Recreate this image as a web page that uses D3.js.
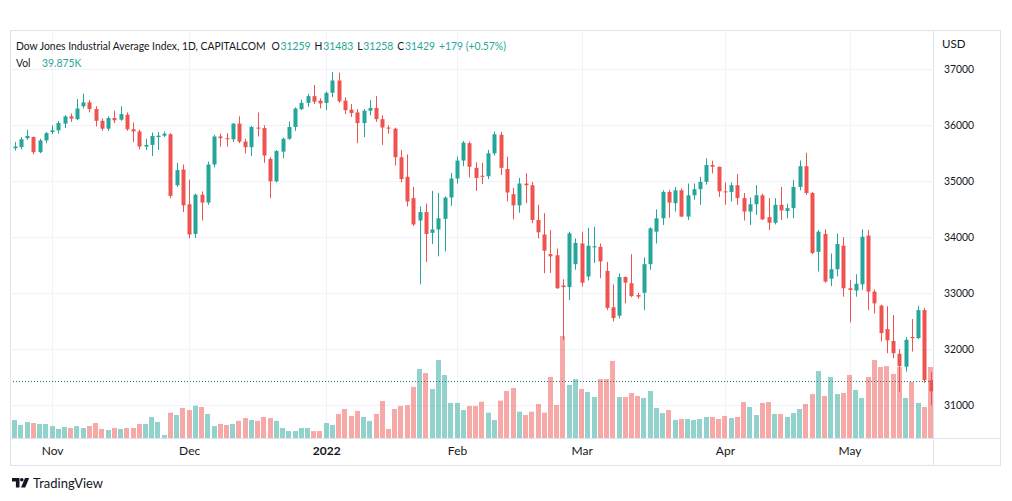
<!DOCTYPE html>
<html><head><meta charset="utf-8">
<script src="https://cdn.jsdelivr.net/npm/d3@7"></script>
<style>
html,body{margin:0;padding:0;background:#fff;}
svg{display:block;font-family:Lato,"Open Sans",sans-serif;}
</style></head><body>
<svg id="chart" width="1012" height="501"></svg>
<script>
// ---- data (daily bars, Dow Jones Industrial Average Index CFD) ----
const monthKeys = ["2021-10","2021-11","2021-12","2022-01","2022-02","2022-03","2022-04","2022-05"];
const monthDays = [
  [22,25,26,27,28,29],
  [1,2,3,4,5,8,9,10,11,12,15,16,17,18,19,22,23,24,25,26,29,30],
  [1,2,3,6,7,8,9,10,13,14,15,16,17,20,21,22,23,27,28,29,30,31],
  [3,4,5,6,7,10,11,12,13,14,17,18,19,20,21,24,25,26,27,28,31],
  [1,2,3,4,7,8,9,10,11,14,15,16,17,18,21,22,23,24,25,28],
  [1,2,3,4,7,8,9,10,11,14,15,16,17,18,21,22,23,24,25,28,29,30,31],
  [1,4,5,6,7,8,11,12,13,14,18,19,20,21,22,25,26,27,28,29],
  [2,3,4,5,6,9,10,11,12,13,16,17,18,19]
];
const opens = [35590,35610,35770,35790,35520,35730,35880,35910,36030,36160,
36110,36340,36410,36290,36080,35940,36130,36100,36190,35930,
35890,35620,35650,35790,35815,35840,34930,35210,34590,34060,
34760,34620,35300,35800,35770,35750,36030,35710,35610,35960,
35950,35400,35000,35530,35760,35970,36290,36400,36520,36440,
36400,36580,36800,36440,36280,36230,36040,36260,36310,36110,
35960,35940,35430,35080,34700,34300,34450,34080,34140,34330,
34710,35050,35370,35680,35240,35100,35090,35500,35830,35220,
34770,34570,34960,34930,34310,34050,33700,33680,33140,33110,
33520,33890,33300,33820,33830,33400,32750,32600,33290,33180,
32970,33010,33520,34100,34340,34810,34610,34840,34370,34750,
34860,34990,35290,35260,34820,34810,34930,34700,34460,34590,
34750,34360,34260,34580,34470,34520,34900,35270,34790,33740,
34060,33260,33430,33850,33090,33050,33160,34030,33030,32780,
32360,32150,31920,31690,32220,32200,32700,31450];
const highs = [35700,35790,35920,35800,35760,35880,36000,36080,36180,36210,
36470,36565,36450,36340,36120,36160,36260,36340,36230,36050,
35920,35760,35870,35880,35890,35860,35330,35300,35030,34780,
34820,35350,35830,35850,35860,36040,36160,35760,35990,36230,
36000,35430,35560,35780,36070,36320,36460,36560,36720,36480,
36600,36950,36940,36500,36380,36290,36290,36450,36520,36180,
36000,35960,35560,35480,34900,34550,34600,34830,34790,34730,
35150,35440,35720,35710,35340,35330,35560,35890,35880,35440,
34880,35060,35140,34990,34580,34430,34130,33800,33250,34100,
33980,34100,34170,34190,33890,33560,33160,33350,33300,33700,
33010,33640,34180,34500,34840,34850,34900,34870,34960,34960,
35080,35410,35370,35260,34980,34980,35130,34790,34710,34930,
34780,34700,34700,34900,34600,35020,35370,35510,34810,34130,
34140,33710,34070,34000,33240,33340,34140,34130,33070,32800,
32770,32610,32000,32220,32540,32780,32740,31600];
const lows = [35550,35570,35740,35480,35500,35680,35840,35850,35950,36060,
36090,36300,36230,35980,35900,35900,36040,36080,35900,35700,
35570,35560,35450,35560,35790,34700,34900,34450,33980,33990,
34300,34580,35250,35620,35620,35700,35680,35500,35450,35800,
35330,34700,34980,35410,35740,35900,36270,36330,36380,36300,
36270,36500,36400,36200,36150,35680,35790,36180,36060,35650,
35850,35280,34980,34550,34200,33160,33560,33880,33660,33750,
34560,34960,35270,35070,34830,34950,35040,35460,35110,34640,
34320,34440,34610,34250,33980,33360,33360,33080,32170,32880,
33420,33120,33230,33540,33270,32700,32500,32550,32820,32930,
32900,32700,33420,33890,34220,34350,34460,34360,34310,34670,
34580,34940,35140,34720,34580,34640,34580,34300,34220,34400,
34310,34130,34230,34310,34340,34340,34840,34760,33700,33390,
33190,33130,33300,32940,32480,32940,33060,32700,32640,32140,
31930,31840,31240,31600,31960,32180,31400,31000];
const closes = [35620,35750,35810,35520,35730,35860,35910,36040,36160,36120,
36300,36410,36290,36080,35940,36130,36090,36200,35930,35890,
35620,35650,35810,35815,35850,34740,35200,34570,34050,34760,
34620,35300,35800,35770,35750,36030,35710,35610,35970,35940,
35460,35000,35540,35760,35970,36300,36400,36520,36420,36390,
36580,36800,36430,36270,36220,36040,36260,36310,36110,35960,
35940,35430,35040,34640,34230,34450,34060,34140,34340,34710,
35050,35370,35690,35260,35060,35080,35500,35840,35240,34800,
34570,34960,34930,34310,34090,33760,33660,33090,33110,34070,
33900,33190,33850,33840,33570,32740,32560,33290,33190,32950,
32940,33520,34160,34340,34810,34620,34840,34370,34750,34860,
34990,35290,35260,34820,34810,34930,34700,34460,34590,34750,
34320,34260,34580,34480,34520,34900,35270,34790,33720,34100,
33210,33430,33880,33090,33060,33170,34010,33030,32820,32290,
32160,31930,31700,32170,32200,32700,31450,31250];
const volumesK = [10.1,7.3,9.0,8.4,7.9,7.9,6.7,5.1,6.2,5.6,
6.7,5.6,6.7,8.4,5.1,4.5,5.6,5.1,5.6,5.6,
7.9,7.9,11.8,9.0,1.7,14.2,12.9,16.9,15.7,18.1,
17.4,13.5,6.7,7.9,7.3,7.9,9.6,11.2,10.1,9.6,
11.8,11.2,9.6,5.6,3.9,3.9,5.6,5.6,3.9,3.9,
8.4,7.3,13.5,16.3,12.4,15.2,11.8,9.6,13.5,20.8,
5.1,16.3,18.0,18.5,28.7,38.8,36.5,27.5,43.8,35.4,
19.7,19.7,15.7,18.0,18.0,20.4,14.2,10.1,21.0,26.4,
28.1,14.8,12.9,14.8,19.1,14.2,34.3,18.5,57.3,29.8,
33.1,27.5,25.8,23.0,33.1,33.1,43.3,23.0,23.0,25.3,
23.6,22.5,26.4,16.9,14.0,15.7,10.1,10.7,10.7,10.1,
10.7,11.8,11.8,10.7,12.4,11.2,11.8,20.2,17.4,12.9,
19.7,20.2,13.5,13.5,11.8,14.0,16.3,19.1,24.7,37.6,
23.6,34.3,24.7,25.3,35.4,27.0,22.5,34.3,43.8,39.9,
40.4,36.0,39.9,22.5,31.5,19.7,17.4,39.875];
const priceTicks = [31000,32000,33000,34000,35000,36000,37000];
const tickDates = ["2021-11-01","2021-12-01","2022-01-03","2022-02-01","2022-03-01","2022-04-01","2022-05-02"];
const tickLabels = ["Nov","Dec","2022","Feb","Mar","Apr","May"];
const lastPrice = 31429;
const legendTitle = "Dow Jones Industrial Average Index, 1D, CAPITALCOM";
const legendKeys = ["O","H","L","C"];
const legendValues = ["31259","31483","31258","31429"];
const legendChange = "+179 (+0.57%)";
const legendVol = "39.875K";

// ---- build ----
const dates = monthKeys.flatMap((m,i)=>monthDays[i].map(d=>m+"-"+String(d).padStart(2,"0")));
const bars = dates.map((d,i)=>({d,o:opens[i],h:highs[i],l:lows[i],c:closes[i],v:volumesK[i]}));

const UP="#26a69a", DN="#ef5350", TXT="#131722", GRID="#f0f3fa", BORDER="#e0e3eb";
const svg = d3.select("#chart");

const x = d3.scalePoint().domain(dates).range([14.7, 930.5]);
const y = d3.scaleLinear().domain([31000,37000]).range([405.3,69.3]);
const yv = d3.scaleLinear().domain([0,60]).range([438,331.2]);

const paneL=10, paneR=933, paneT=30, paneB=438;

// grid
const grid = svg.append("g");
grid.selectAll("line.h").data(priceTicks).join("line")
  .attr("x1",paneL).attr("x2",paneR)
  .attr("y1",d=>Math.round(y(d))+0.5).attr("y2",d=>Math.round(y(d))+0.5)
  .attr("stroke",GRID);
grid.selectAll("line.v").data(tickDates).join("line")
  .attr("x1",d=>Math.round(x(d))+0.5).attr("x2",d=>Math.round(x(d))+0.5)
  .attr("y1",paneT).attr("y2",paneB)
  .attr("stroke",GRID);

// volume
svg.append("g").selectAll("rect").data(bars).join("rect")
  .attr("x",d=>Math.round(x(d.d)-2.5))
  .attr("width",5)
  .attr("y",d=>yv(d.v))
  .attr("height",d=>yv(0)-yv(d.v))
  .attr("fill",d=>d.c>=d.o?UP:DN)
  .attr("fill-opacity",0.5);

// last price line
svg.append("line")
  .attr("x1",paneL).attr("x2",paneR)
  .attr("y1",Math.round(y(lastPrice))+0.5).attr("y2",Math.round(y(lastPrice))+0.5)
  .attr("stroke","#1f7a72").attr("stroke-dasharray","1,2");

// candles
const cg = svg.append("g");
cg.selectAll("line").data(bars).join("line")
  .attr("x1",d=>Math.round(x(d.d))+0.5).attr("x2",d=>Math.round(x(d.d))+0.5)
  .attr("y1",d=>y(d.h)).attr("y2",d=>y(d.l))
  .attr("stroke",d=>d.c>=d.o?UP:DN);
cg.selectAll("rect").data(bars).join("rect")
  .attr("x",d=>Math.round(x(d.d))-1.5)
  .attr("width",4)
  .attr("y",d=>y(Math.max(d.o,d.c)))
  .attr("height",d=>Math.max(1,Math.abs(y(d.o)-y(d.c))))
  .attr("fill",d=>d.c>=d.o?UP:DN);

// frame
svg.append("rect").attr("x",10.5).attr("y",30.5).attr("width",990).attr("height",435)
  .attr("fill","none").attr("stroke",BORDER);
svg.append("line").attr("x1",933.5).attr("x2",933.5).attr("y1",30).attr("y2",466).attr("stroke",BORDER);
svg.append("line").attr("x1",10).attr("x2",1001).attr("y1",438.5).attr("y2",438.5).attr("stroke",BORDER);

// price axis
const ya = svg.append("g").attr("transform","translate(944,0)")
  .call(d3.axisRight(y).tickValues(priceTicks).tickSize(0).tickPadding(0).tickFormat(d3.format("d")));
ya.select(".domain").remove();
ya.selectAll("text").attr("font-size",11.5).attr("fill",TXT).attr("font-family","Lato,sans-serif")
  .attr("textLength",30).attr("lengthAdjust","spacingAndGlyphs");
svg.append("text").attr("x",942).attr("y",48).text("USD").attr("font-size",11.5).attr("fill",TXT);

// time axis
const xa = svg.append("g").attr("transform","translate(0,446)")
  .call(d3.axisBottom(x).tickValues(tickDates).tickSize(0).tickPadding(0)
    .tickFormat(d=>tickLabels[tickDates.indexOf(d)]));
xa.select(".domain").remove();
xa.selectAll("text").attr("font-size",12).attr("fill",TXT).attr("font-family","Lato,sans-serif")
  .attr("font-weight",d=>d.startsWith("2022-01")?"bold":"normal");

// legend: natural-width pieces in a horizontally condensed group
const lg = svg.append("g").attr("font-size",12).attr("font-family","Lato,sans-serif");
function put(g, txt, xPos, yPos, fill){
  const t = g.append("text").attr("x",xPos).attr("y",yPos).attr("fill",fill).text(txt);
  return xPos + t.node().getComputedTextLength();
}
const titleEnd = put(lg, legendTitle, 0, 50, TXT);
const s = 250 / titleEnd;
lg.attr("transform",`translate(16,0) scale(${s},1)`);
const loc = v => (v - 16) / s;
let cx = titleEnd;
const keyX = [271.5,311.5,352.5,387.5];
legendKeys.forEach((k,i)=>{
  const kx = Math.max(loc(keyX[i]), cx + 4/s);
  const e = put(lg, k, kx, 50, TXT);
  cx = put(lg, legendValues[i], e + 0.8/s, 50, UP);
});
put(lg, legendChange, Math.max(loc(430), cx + 4/s), 50, UP);
const vx = put(lg, "Vol", 0, 67, TXT);
put(lg, legendVol, Math.max(loc(42), vx + 5/s), 67, UP);

// TradingView logo
const logo = svg.append("g").attr("fill",TXT);
logo.append("path").attr("d","M12 478 h7.5 v9.5 h-3.6 v-6 h-3.9 z");
logo.append("circle").attr("cx",21.8).attr("cy",479.8).attr("r",1.8);
logo.append("path").attr("d","M25 478 h4.2 l-4 9.5 h-4.2 z");
svg.append("text").attr("x",33).attr("y",488).attr("font-size",13).attr("fill",TXT)
  .attr("textLength",70).attr("lengthAdjust","spacingAndGlyphs").text("TradingView");
</script>
</body></html>
